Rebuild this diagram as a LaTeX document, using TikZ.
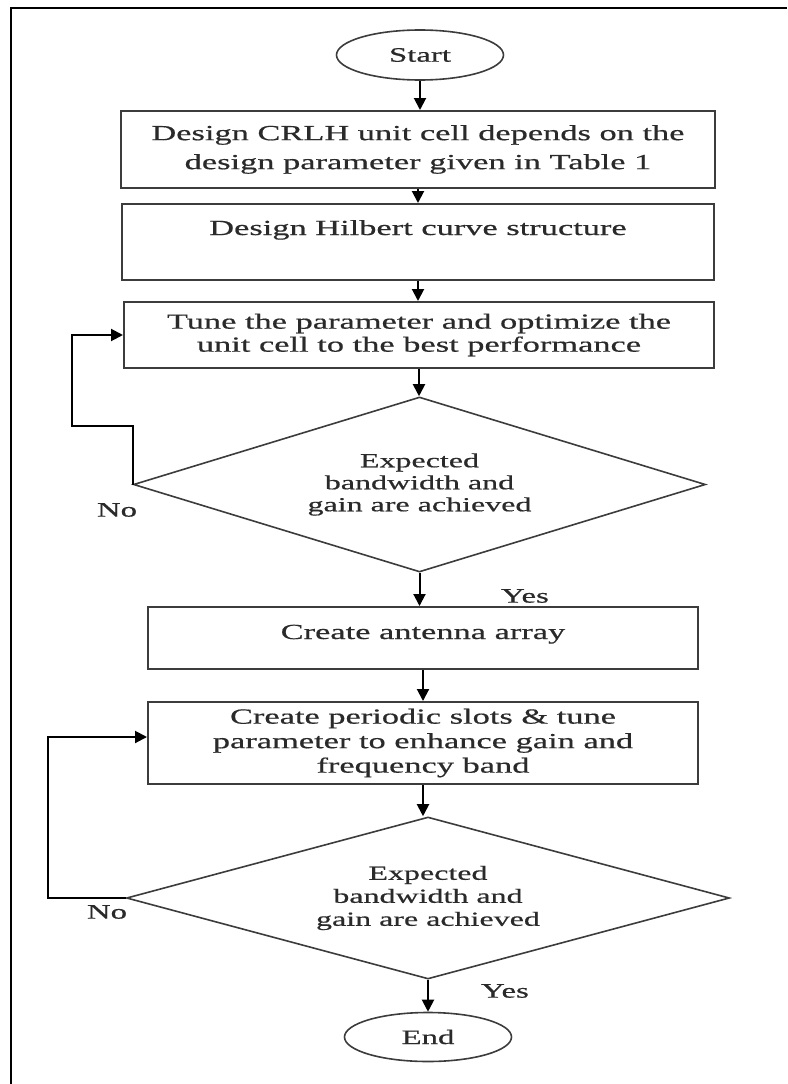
\documentclass[tikz,border=0pt]{standalone}
\usepackage{fontspec}
\usetikzlibrary{shapes.geometric,arrows.meta}
\newfontfamily\flowfont[FakeStretch=1.6,FakeBold=0.6]{Liberation Serif}
\definecolor{ink}{HTML}{2A2A2A}
\definecolor{edge}{HTML}{3C3C3C}
\begin{document}
\begin{tikzpicture}[x=1pt,y=-1pt,
  every node/.style={text=ink},
  procbox/.style={draw=edge, line width=2pt, rectangle, inner sep=0pt, align=center,
    font=\flowfont\fontsize{21.5}{24}\selectfont},
  decbox/.style={draw=edge, line width=1.6pt, diamond, aspect=3.3, inner sep=0pt, align=center,
    font=\flowfont\fontsize{20}{22}\selectfont},
  termbox/.style={draw=edge, line width=1.6pt, ellipse, inner sep=0pt,
    minimum width=167pt, minimum height=50pt,
    font=\flowfont\fontsize{20.5}{22}\selectfont},
  lbl/.style={font=\flowfont\fontsize{20.5}{22}\selectfont, inner sep=0pt},
  conn/.style={draw=black, line width=2pt, -{Triangle[length=12pt,width=12pt]}}
]
\useasboundingbox (0,0) rectangle (787,1084);
% frame (top and left edges as in the reference)
\draw[line width=2pt] (11,1084) -- (11,8) -- (787,8);

\node[termbox] (start) at (420,55) {Start};
\node[procbox, minimum width=594pt, minimum height=77pt, font=\flowfont\fontsize{21.5}{29}\selectfont] (b1) at (418,149.5)
  {Design CRLH unit cell depends on the\\design parameter given in Table 1};
\node[procbox, minimum width=592pt, minimum height=76pt, text height=15pt, text depth=29pt] (b2) at (418,242)
  {Design Hilbert curve structure};
\node[procbox, minimum width=590pt, minimum height=66pt, font=\flowfont\fontsize{21.5}{23}\selectfont] (b3) at (419,335)
  {Tune the parameter and optimize the\\unit cell to the best performance};
\node[decbox, minimum width=572pt, minimum height=175pt] (d1) at (419.5,484.5)
  {Expected\\bandwidth and\\gain are achieved};
\node[procbox, minimum width=550pt, minimum height=62pt, text height=15pt, text depth=13pt] (b4) at (423,638)
  {Create antenna array};
\node[procbox, minimum width=550pt, minimum height=82pt, font=\flowfont\fontsize{21.5}{24.5}\selectfont] (b5) at (423,743)
  {Create periodic slots \& tune\\parameter to enhance gain and\\frequency band};
\node[decbox, minimum width=603pt, minimum height=162pt, font=\flowfont\fontsize{20}{23}\selectfont] (d2) at (428,898)
  {Expected\\bandwidth and\\gain are achieved};
\node[termbox, minimum height=49pt] (end) at (428,1037) {End};

\node[lbl] (no1) at (117,510) {No};
\node[lbl] (no2) at (107,912) {No};
\node[lbl] (yes1) at (525,596) {Yes};
\node[lbl] (yes2) at (505,991) {Yes};

\draw[conn] (start.south) -- (start.south |- b1.north);
\draw[conn] (b1.south) -- (b1.south |- b2.north);
\draw[conn] (b2.south) -- (b2.south |- b3.north);
\draw[conn] (b3.south) -- (b3.south |- d1.north);
\draw[conn] (d1.south) -- (d1.south |- b4.north);
\draw[conn] (b4.south) -- (b4.south |- b5.north);
\draw[conn] (b5.south) -- (b5.south |- d2.north);
\draw[conn] (d2.south) -- (d2.south |- end.north);

\coordinate (n1) at (72,426);
\draw[conn] (d1.west) |- (n1) |- (b3.west);
\coordinate (n2) at (48,737);
\draw[conn] (d2.west) -| (n2) -- (n2 -| b5.west);
\end{tikzpicture}
\end{document}
